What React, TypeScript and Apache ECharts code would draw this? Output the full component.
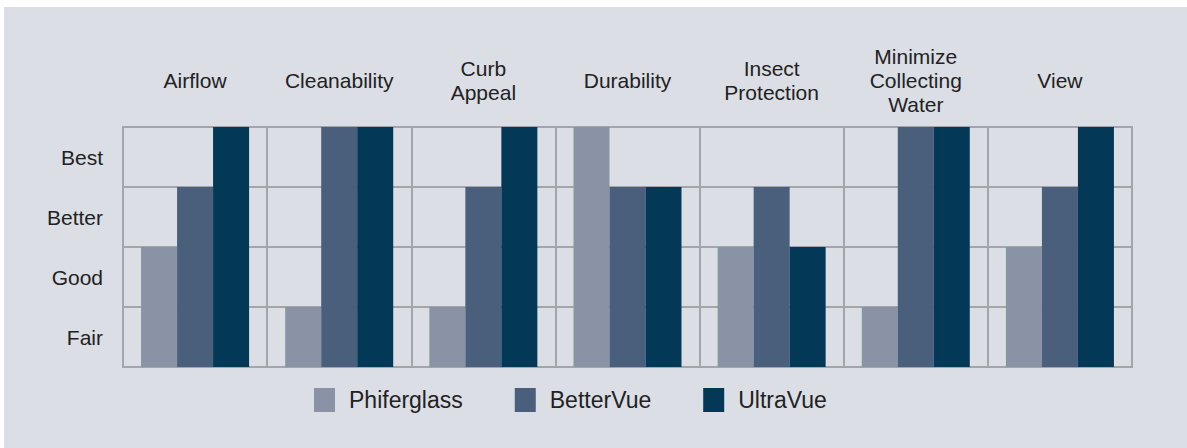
import React, { useEffect, useRef } from "react";
import * as echarts from "echarts";

const categories = [
  "Airflow",
  "Cleanability",
  "Curb\nAppeal",
  "Durability",
  "Insect\nProtection",
  "Minimize\nCollecting\nWater",
  "View",
];
const ratingLabels = ["Fair", "Good", "Better", "Best"];
const seriesNames = ["Phiferglass", "BetterVue", "UltraVue"];
const phiferglass = [2, 1, 1, 4, 2, 1, 2];
const betterVue = [3, 4, 3, 3, 3, 4, 3];
const ultraVue = [4, 4, 4, 3, 2, 4, 4];
const colors = ["#8a93a6", "#4a5f7c", "#033957"];

const FONT = "'Liberation Sans', Arial, Helvetica, sans-serif";

export default function App() {
  const ref = useRef<HTMLDivElement>(null);
  useEffect(() => {
    if (!ref.current) return;
    const chart = echarts.init(ref.current, undefined, { renderer: "svg" });
    const gridColor = "#a4a5a8";
    chart.setOption({
      animation: false,
      backgroundColor: "#dbdee5",
      textStyle: { fontFamily: FONT },
      grid: {
        left: 119,
        right: 55,
        top: 120,
        bottom: 81,
        show: true,
        borderColor: gridColor,
        borderWidth: 2,
        backgroundColor: "transparent",
      },
      legend: {
        left: 305,
        top: 376,
        icon: "rect",
        itemWidth: 21,
        itemHeight: 24,
        itemGap: 52,
        data: seriesNames,
        textStyle: {
          fontSize: 23,
          color: "#222",
          fontFamily: FONT,
          padding: [0, 0, 0, 9],
        },
      },
      xAxis: {
        type: "category",
        position: "top",
        data: categories,
        axisLine: { show: true, lineStyle: { color: gridColor, width: 2 } },
        axisTick: { show: false },
        splitLine: { show: true, lineStyle: { color: gridColor, width: 2 } },
        axisLabel: {
          fontSize: 21,
          color: "#222",
          fontFamily: FONT,
          lineHeight: 24,
          verticalAlign: "middle",
          margin: 47,
          interval: 0,
        },
      },
      yAxis: [
        {
          type: "value",
          min: 0,
          max: 4,
          interval: 1,
          axisLabel: { show: false },
          axisLine: { show: false },
          axisTick: { show: false },
          splitLine: { show: true, lineStyle: { color: gridColor, width: 2 } },
        },
        {
          type: "category",
          position: "left",
          data: ratingLabels,
          axisLine: { show: false },
          axisTick: { show: false },
          splitLine: { show: false },
          axisLabel: {
            fontSize: 21,
            color: "#222",
            fontFamily: FONT,
            margin: 20,
          },
        },
      ],
      series: [
        { name: seriesNames[0], data: phiferglass, color: colors[0] },
        { name: seriesNames[1], data: betterVue, color: colors[1] },
        { name: seriesNames[2], data: ultraVue, color: colors[2] },
      ].map((s) => ({
        type: "bar",
        name: s.name,
        data: s.data,
        yAxisIndex: 0,
        barWidth: 36,
        barGap: "0%",
        itemStyle: { color: s.color },
        emphasis: { disabled: true },
      })),
    });
    return () => chart.dispose();
  }, []);
  return (
    <div
      style={{
        position: "absolute",
        left: 0,
        top: 0,
        width: 1187,
        height: 448,
        background: "#ffffff",
      }}
    >
      <div
        ref={ref}
        style={{ position: "absolute", left: 4, top: 7, width: 1183, height: 441 }}
      />
    </div>
  );
}
